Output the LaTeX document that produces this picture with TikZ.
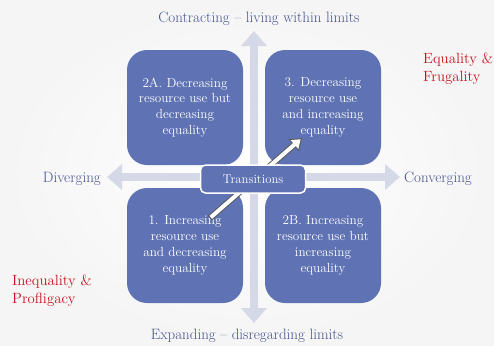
\documentclass[tikz,border=0pt]{standalone}
\usepackage{tikz}
\usetikzlibrary{positioning}
\usetikzlibrary{arrows.meta}

\definecolor{quadblue}{RGB}{95,115,180}
\definecolor{axisgray}{RGB}{213,216,230}
\definecolor{axistext}{RGB}{68,82,142}
\definecolor{notered}{RGB}{200,16,30}

\tikzset{
  quad/.style={rectangle, rounded corners=20pt, fill=quadblue, text=white,
    minimum width=116pt, minimum height=115pt, inner sep=0pt, align=center,
    font=\fontsize{13.2}{15.8}\selectfont},
  trbox/.style={rectangle, rounded corners=5pt, fill=quadblue, draw=white,
    line width=1.5pt, text=white, minimum width=105pt, minimum height=28pt,
    font=\fontsize{12.7}{15}\selectfont},
  axis/.style={draw=axisgray, line width=8pt, -{Triangle[width=25pt,length=15pt]}},
  axislabel/.style={inner sep=0pt, text=axistext, font=\fontsize{15}{18}\selectfont},
  note/.style={inner sep=0pt, text=notered, align=left, anchor=north west,
    font=\fontsize{14.8}{18}\selectfont},
  transline/.style={draw=black!65, line width=6pt, -{Triangle[width=15pt,length=11pt]}},
  transfill/.style={draw=white, line width=4pt, shorten <=1pt, shorten >=1.8pt,
    -{Triangle[width=11.2pt,length=8.2pt]}},
}

\begin{document}
\begin{tikzpicture}[x=1pt, y=-1pt]
  \shade[inner color=white, outer color=black!4] (0,0) rectangle (494,345);
  \useasboundingbox (0,0) rectangle (494,345);

  \coordinate (c) at (254,177);
  \coordinate (up) at (254,31);
  \coordinate (dn) at (254,323);
  \coordinate (lt) at (107,177);
  \coordinate (rt) at (400,177);

  \draw[axis] (c) -- (up);
  \draw[axis] (c) -- (dn);
  \draw[axis] (c) -- (lt);
  \draw[axis] (c) -- (rt);

  \node[quad] (q2a) at (185,107.5) {2A. Decreasing\\resource use but\\decreasing\\equality};
  \node[quad] (q3) at (323,107.5) {3. Decreasing\\resource use\\and increasing\\equality};
  \node[quad] (q1) at (185,245.5) {1. Increasing\\resource use\\and decreasing\\equality};
  \node[quad] (q2b) at (323,245.5) {2B. Increasing\\resource use but\\increasing\\equality};

  \coordinate (from) at (210,218);
  \coordinate (to) at (302,138);
  \draw[transline] (from) -- (to);
  \draw[transfill] (from) -- (to);

  \node[trbox] (tr) at (253,179) {Transitions};

  \node[axislabel, above=5pt of up, xshift=5pt] (contract) {Contracting -- living within limits};
  \node[axislabel, below=6pt of dn, xshift=-7pt] (expand) {Expanding -- disregarding limits};
  \node[axislabel, left=6pt of lt, yshift=-2pt] (diverge) {Diverging};
  \node[axislabel, right=4pt of rt, yshift=-2pt] (converge) {Converging};

  \node[note] (eqfr) at (423,53) {Equality \&\\Frugality};
  \node[note] (ineqpr) at (12,275) {Inequality \&\\Profligacy};
\end{tikzpicture}
\end{document}
